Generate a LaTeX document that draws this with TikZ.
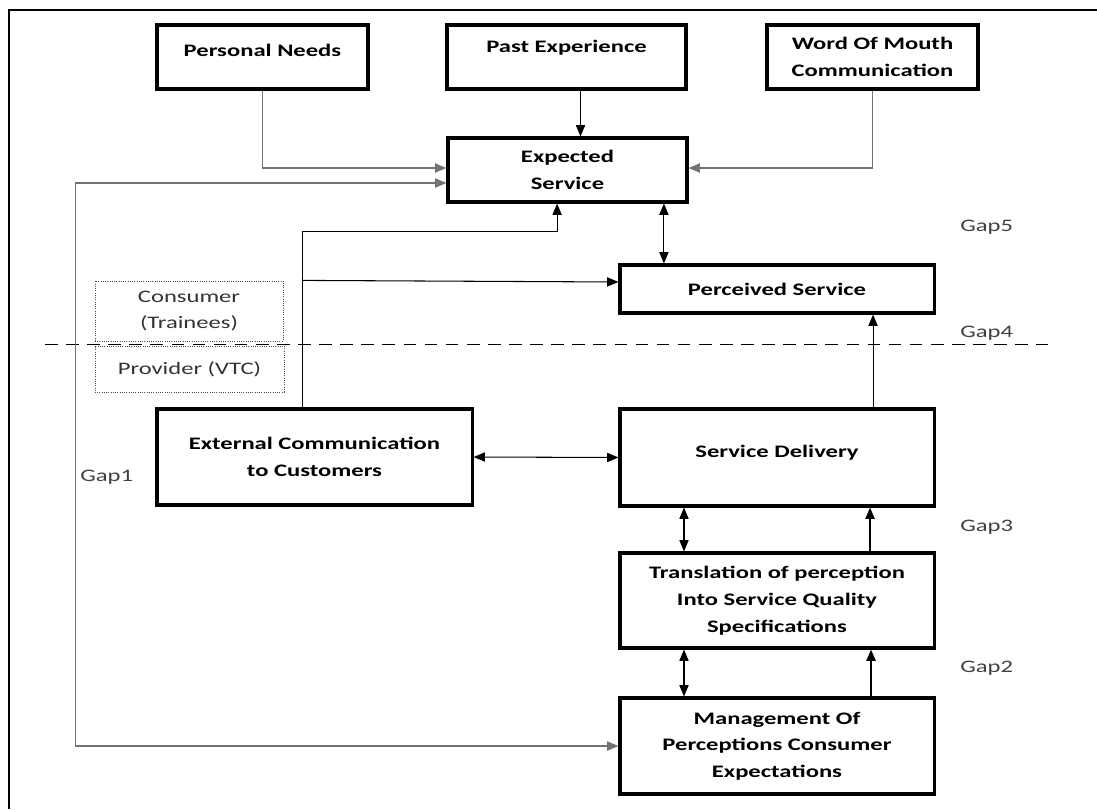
\documentclass[tikz,border=0pt]{standalone}
\usepackage{fontspec}
\setmainfont{Carlito}[FakeStretch=1.4]
\usetikzlibrary{arrows.meta}
\tikzset{
	box/.style={draw, line width=2.2pt, inner sep=0pt, align=center, font=\bfseries\fontsize{12.5}{19}\selectfont},
	tagbox/.style={draw=black!70, densely dotted, line width=0.6pt, inner sep=0pt, align=center, text=black!80, font=\fontsize{12.5}{19}\selectfont},
	gaptext/.style={anchor=west, inner sep=0pt, text=black!75, font=\fontsize{12.5}{15}\selectfont},
	conn/.style={line width=0.75pt, -{Triangle[length=8pt,width=6.5pt]}},
	twoway/.style={line width=0.75pt, {Triangle[length=8pt,width=6.5pt]}-{Triangle[length=8pt,width=6.5pt]}},
	greyline/.style={draw=black!55, line width=1pt},
}

\begin{document}
\begin{tikzpicture}[x=0.025cm, y=-0.025cm]
			%%%%% START %%%%%
			\useasboundingbox (0, 0) rectangle (1097, 809);
			\draw[line width=1pt] (9, 809) -- (9, 10) -- (1097, 10);
			
			% top row
			\node[box, minimum width=5.275cm, minimum height=1.6cm] (needs) at (262.5, 57) {Personal Needs\\[-10pt]~};
			\node[box, minimum width=5.975cm, minimum height=1.6cm] (past) at (566.5, 57) {Past Experience\\[-4pt]~};
			\node[box, minimum width=5.275cm, minimum height=1.6cm] (mouth) at (872.5, 57) {Word Of Mouth\\Communication};
			
			\node[box, minimum width=5.975cm, minimum height=1.6cm] (expected) at (567.5, 170) {Expected\\Service};
			\node[box, minimum width=7.85cm, minimum height=1.2cm] (perceived) at (777, 289) {Perceived Service};
			
			% provider side
			\node[box, minimum width=7.875cm, minimum height=2.4cm] (extcomm) at (314.5, 457) {External Communication\\to Customers};
			\node[box, minimum width=7.85cm, minimum height=2.425cm] (delivery) at (777, 457.5) {Service Delivery\\[-10pt]~};
			\node[box, minimum width=7.85cm, minimum height=2.375cm] (translation) at (777, 600.5) {Translation of perception\\Into Service Quality\\Specifications};
			\node[box, minimum width=7.85cm, minimum height=2.4cm] (mgmt) at (777, 746) {Management Of\\Perceptions Consumer\\Expectations};
			
			\node[tagbox, minimum width=4.7cm, minimum height=1.5cm] (consumer) at (189, 311) {Consumer\\(Trainees)};
			\node[tagbox, minimum width=4.725cm, minimum height=1.15cm] (provider) at (189.5, 369) {Provider (VTC)};
			
			\draw[line width=0.7pt, dash pattern=on 9pt off 6pt] (45, 344) -- (1048, 344);
			
			\node[gaptext] (gapfive) at (960, 227) {Gap5};
			\node[gaptext] (gapfour) at (960, 333) {Gap4};
			\node[gaptext] (gapthree) at (960, 527) {Gap3};
			\node[gaptext] (gaptwo) at (960, 668) {Gap2};
			\node[gaptext] (gapone) at (80, 477) {Gap1};
			
			% connectors
			\draw[conn, greyline] (needs.south) |- ([yshift=0.05cm]expected.west);
			\draw[conn] ([xshift=0.35cm]past.south) -- ([xshift=0.35cm]past.south |- expected.north);
			\draw[conn, greyline] (mouth.south) |- ([yshift=0.05cm]expected.east);
			\draw[twoway, greyline] ([yshift=-0.325cm]expected.west) -- ++(-9.275cm, 0) |- (mgmt.west);
			
			\draw[conn] ([xshift=-0.29cm]extcomm.north) -- ++(0, 4.4cm) -| ([xshift=-0.26cm]expected.south);
			\draw[conn] ([xshift=-0.29cm, yshift=3.175cm]extcomm.north) -- ([yshift=0.175cm]perceived.west);
			\draw[twoway] ([xshift=2.41cm]expected.south) -- ([xshift=2.41cm]expected.south |- perceived.north);
			\draw[conn] ([xshift=2.4cm]delivery.north) -- ([xshift=2.4cm]perceived.south);
			\draw[twoway] (extcomm.east) -- (delivery.west);
			
			\draw[twoway] ([xshift=-2.325cm]delivery.south) -- ([xshift=-2.325cm]translation.north);
			\draw[conn, line width=1.3pt] ([xshift=2.325cm]translation.north) -- ([xshift=2.325cm]delivery.south);
			\draw[twoway] ([xshift=-2.325cm]translation.south) -- ([xshift=-2.325cm]mgmt.north);
			\draw[conn, line width=1.3pt] ([xshift=2.35cm]mgmt.north) -- ([xshift=2.35cm]translation.south);
			%%%%% END %%%%%
\end{tikzpicture}
\end{document}
